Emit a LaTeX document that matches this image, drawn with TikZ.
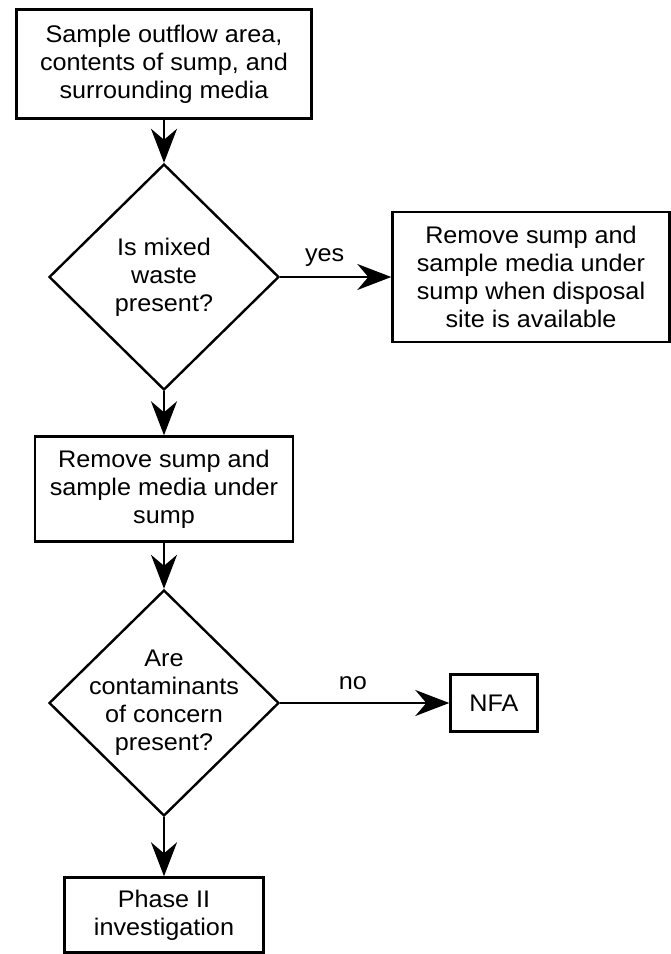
\documentclass[tikz,border=0pt]{standalone}
\usepackage{fontspec}
\setmainfont{Liberation Sans}[FakeStretch=1.05]
\usetikzlibrary{arrows.meta,shapes.geometric}

\begin{document}
\begin{tikzpicture}[x=1pt,y=-1pt,
  every node/.style={font=\fontsize{24}{28}\selectfont, align=center},
  box/.style={draw, line width=2.4pt, inner sep=0pt},
  query/.style={draw, diamond, line width=2.4pt, inner sep=-8pt,
    minimum width=230pt, minimum height=226pt},
  arr/.style={line width=2.4pt, -{Stealth[length=34pt,width=26pt,inset=11pt]}}]
  \useasboundingbox (0,0) rectangle (671,954);
  % main column
  \node[box, minimum width=295pt, minimum height=109pt] (sample) at (164,64)
    {Sample outflow area,\\contents of sump, and\\surrounding media};
  \node[query] (mixed) at (164,277) {Is mixed\\waste\\present?};
  \node[box, minimum width=258pt, minimum height=105pt] (remove) at (164,489)
    {Remove sump and\\sample media under\\sump};
  \node[query] (contam) at (164,703) {Are\\contaminants\\of concern\\present?};
  \node[box, minimum width=199pt, minimum height=75pt] (phase) at (164,915)
    {Phase II\\investigation};
  % side boxes
  \node[box, minimum width=277pt, minimum height=130pt] (later) at (531,277)
    {Remove sump and\\sample media under\\sump when disposal\\site is available};
  \node[box, minimum width=87pt, minimum height=57pt] (nfa) at (494,703) {NFA};
  % connectors
  \draw[arr] (sample) -- (mixed);
  \draw[arr] (mixed) -- node[pos=0.4, above=6pt] {yes} (later);
  \draw[arr] (mixed) -- (remove);
  \draw[arr] (remove) -- (contam);
  \draw[arr] (contam) -- node[pos=0.43, above=9pt] {no} (nfa);
  \draw[arr] (contam) -- (phase);
\end{tikzpicture}
\end{document}
